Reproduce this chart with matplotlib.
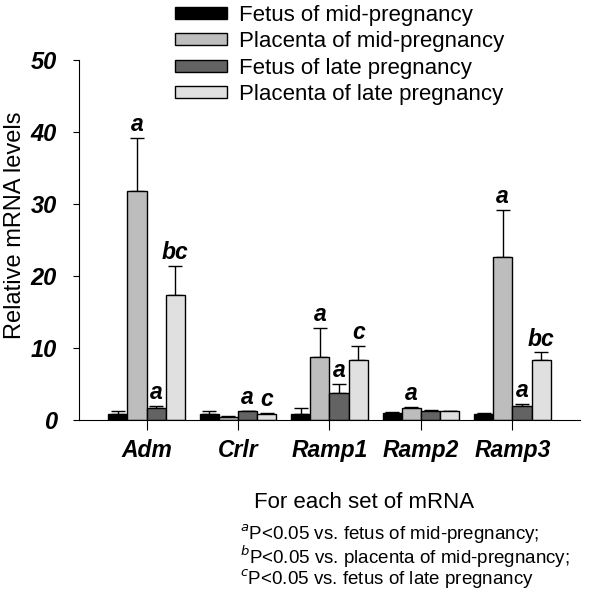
import numpy as np
import matplotlib.pyplot as plt

plt.rcParams['font.family'] = ['Liberation Sans', 'DejaVu Sans']

genes = ['Adm', 'Crlr', 'Ramp1', 'Ramp2', 'Ramp3']
groups = ['Fetus of mid-pregnancy', 'Placenta of mid-pregnancy',
          'Fetus of late pregnancy', 'Placenta of late pregnancy']
colors = ['#000000', '#bdbdbd', '#636363', '#e0e0e0']

# mean values, one list per group
fetus_mid = [0.9, 0.9, 0.9, 0.95, 0.9]
placenta_mid = [31.8, 0.4, 8.8, 1.6, 22.6]
fetus_late = [1.7, 1.2, 3.7, 1.3, 2.0]
placenta_late = [17.4, 0.9, 8.3, 1.2, 8.4]

# upper error (SE)
err_fetus_mid = [0.3, 0.3, 0.7, 0.1, 0.1]
err_placenta_mid = [7.4, 0.1, 4.0, 0.2, 6.6]
err_fetus_late = [0.3, 0.1, 1.3, 0.1, 0.2]
err_placenta_late = [4.0, 0.1, 2.0, 0.05, 1.0]

# significance letters
sig_fetus_mid = ['', '', '', '', '']
sig_placenta_mid = ['a', '', 'a', 'a', 'a']
sig_fetus_late = ['a', 'a', 'a', '', 'a']
sig_placenta_late = ['bc', 'c', 'c', '', 'bc']

means = [fetus_mid, placenta_mid, fetus_late, placenta_late]
errs = [err_fetus_mid, err_placenta_mid, err_fetus_late, err_placenta_late]
sigs = [sig_fetus_mid, sig_placenta_mid, sig_fetus_late, sig_placenta_late]

fig = plt.figure(figsize=(6, 6.06), dpi=100)
ax = fig.add_axes([79/600, 1-420/606, 501/600, 360/606])

x = np.arange(len(genes))
w = 0.21
for i in range(4):
    pos = x + (i - 1.5) * w
    ax.bar(pos, means[i], w, color=colors[i], edgecolor='black', linewidth=1,
           label=groups[i], zorder=2)
    ax.errorbar(pos, means[i], yerr=[np.zeros(len(genes)), errs[i]], fmt='none',
                ecolor='black', elinewidth=1, capsize=5, capthick=1, zorder=1)
    for p, m, e, s in zip(pos, means[i], errs[i], sigs[i]):
        if s:
            ax.text(p, m + e + 0.25, s, ha='center', va='bottom', fontsize=16.5,
                    fontweight='bold', fontstyle='italic')

ax.set_xlim(-0.74, 4.74)
ax.set_ylim(0, 50)
ax.set_yticks([0, 10, 20, 30, 40, 50])
ax.set_xticks(x)
ax.set_xticklabels(genes, fontsize=16.5, fontweight='bold', fontstyle='italic')
for lab in ax.get_yticklabels():
    lab.set_fontsize(17)
    lab.set_fontweight('bold')
    lab.set_fontstyle('italic')
ax.tick_params(axis='y', direction='out', length=4, pad=12)
ax.tick_params(axis='x', direction='out', length=7, pad=7)
ax.spines['top'].set_visible(False)
ax.spines['right'].set_visible(False)
ax.set_ylabel('Relative mRNA levels', fontsize=17)
ax.yaxis.set_label_coords(-0.106, 0.54)

fig.legend(loc='upper left', bbox_to_anchor=(175/600, 1-5/606), frameon=False,
           fontsize=16, handlelength=2.35, handleheight=0.45, labelspacing=0.24,
           handletextpad=0.55, borderaxespad=0, borderpad=0)

fig.text(254/600, 1-503/606, 'For each set of mRNA', fontsize=16, va='center')
notes = [('a', 'P<0.05 vs. fetus of mid-pregnancy;'),
         ('b', 'P<0.05 vs. placenta of mid-pregnancy;'),
         ('c', 'P<0.05 vs. fetus of late pregnancy')]
for k, (sup, txt) in enumerate(notes):
    fig.text(240/600, 1-(534 + k*22.5)/606, '$^{\\mathit{' + sup + '}}$' + txt,
             fontsize=13.5, va='center')

fig.savefig('out.png', dpi=100)
